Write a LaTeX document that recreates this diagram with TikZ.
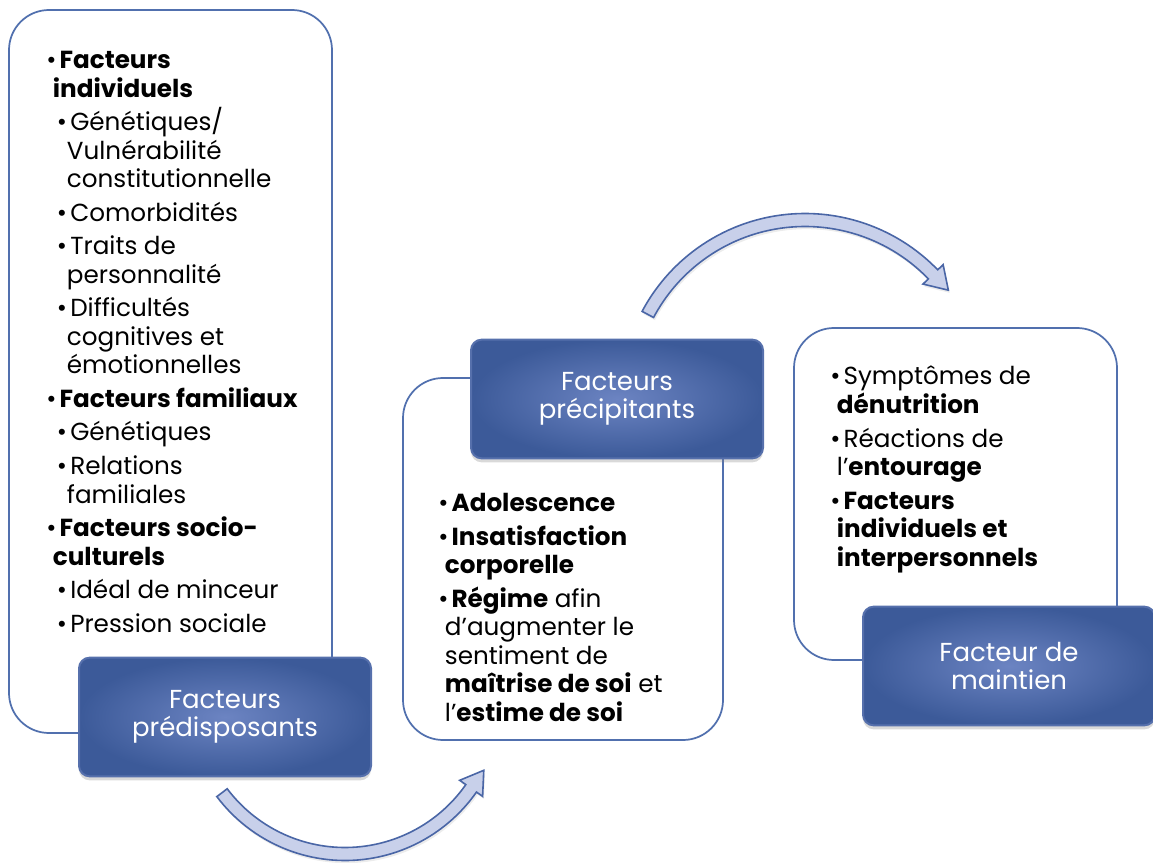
\documentclass[tikz,border=0pt]{standalone}
\usepackage{fontspec}
\setmainfont{Poppins}
\usepackage{tikz}
\usetikzlibrary{calc}
\usetikzlibrary{shadows}

\definecolor{boxdark}{HTML}{3C5A99}
\definecolor{boxlight}{HTML}{6C84C2}
\definecolor{boxline}{HTML}{5670AC}
\definecolor{frameline}{HTML}{5170AE}
\definecolor{arrowfill}{HTML}{C8D0EA}
\definecolor{arrowline}{HTML}{4A66A6}

\newcommand{\pa}{\makebox[10pt][l]{•}}              % first level bullet
\newcommand{\pb}{\hspace*{8pt}\makebox[10pt][l]{•}} % second level bullet
\newcommand{\ca}{\hspace*{5pt}}                     % first level follow-up line
\newcommand{\cb}{\hspace*{15.5pt}}                  % second level follow-up line

\begin{document}
\begin{tikzpicture}[x=0.75pt, y=0.75pt]

\def\ig{3.75pt} % extra gap between two items
\def\ra{154}    % radius of the lower arrow
\def\rb{178}    % radius of the upper arrow
\def\hw{6.5}    % half width of the arrow shaft
\def\hh{14}     % half width of the arrow head
\def\hl{22}     % length of the arrow head

\pgfmathsetmacro{\raout}{\ra+\hw}
\pgfmathsetmacro{\rain}{\ra-\hw}
\pgfmathsetmacro{\raho}{\ra+\hh}
\pgfmathsetmacro{\rahi}{\ra-\hh}
\pgfmathsetmacro{\rbout}{\rb+\hw}
\pgfmathsetmacro{\rbin}{\rb-\hw}
\pgfmathsetmacro{\rbho}{\rb+\hh}
\pgfmathsetmacro{\rbhi}{\rb-\hh}

\tikzset{framebox/.style = {draw=frameline, line width=1.3pt, rounded corners=30pt}}
\tikzset{catbox/.style = {draw=boxline, line width=1.5pt, rounded corners=8pt,
                          shading=radial, inner color=boxlight, outer color=boxdark,
                          text=white, align=center, minimum width=219pt, minimum height=89pt,
                          font=\fontsize{19.5}{21}\selectfont,
                          drop shadow={shadow xshift=0pt, shadow yshift=-3pt, opacity=0.3}}}
\tikzset{itemtext/.style = {anchor=north west, align=left, inner sep=0pt,
                            font=\fontsize{18.5}{21.4}\selectfont}}
\tikzset{blockarrow/.style = {fill=arrowfill, draw=arrowline, line width=1.2pt,
                              drop shadow={shadow xshift=1pt, shadow yshift=-2pt, opacity=0.15}}}

\useasboundingbox (0,0) rectangle (1153,-863);

% frames round the lists
\draw[framebox] (9,-10) rectangle (332,-733);
\draw[framebox] (403,-378) rectangle (723,-740);
\draw[framebox] (794,-328) rectangle (1117,-660);

% curved arrows
\coordinate (ca) at (345,-700);
\coordinate (cb) at (805,-398);

\filldraw[blockarrow] ($(ca)+(217:\raout)$) arc[start angle=217, end angle=325, radius=\raout]
    -- ($(ca)+(325:\raho)$) -- ($(ca)+(325:\ra)+(55:\hl)$) -- ($(ca)+(325:\rahi)$)
    -- ($(ca)+(325:\rain)$) arc[start angle=325, end angle=217, radius=\rain] -- cycle;

\filldraw[blockarrow] ($(cb)+(152:\rbout)$) arc[start angle=152, end angle=44, radius=\rbout]
    -- ($(cb)+(44:\rbho)$) -- ($(cb)+(44:\rb)+(-46:\hl)$) -- ($(cb)+(44:\rbhi)$)
    -- ($(cb)+(44:\rbin)$) arc[start angle=44, end angle=152, radius=\rbin] -- cycle;

% lists
\node[itemtext] (predisplist) at (46,-51) {%
\pa\textbf{Facteurs}\\
\ca\textbf{individuels}\\[\ig]
\pb Génétiques/\\
\cb Vulnérabilité\\
\cb constitutionnelle\\[\ig]
\pb Comorbidités\\[\ig]
\pb Traits de\\
\cb personnalité\\[\ig]
\pb Difficultés\\
\cb cognitives et\\
\cb émotionnelles\\[\ig]
\pa\textbf{Facteurs familiaux}\\[\ig]
\pb Génétiques\\[\ig]
\pb Relations\\
\cb familiales\\[\ig]
\pa\textbf{Facteurs socio-}\\
\ca\textbf{culturels}\\[\ig]
\pb Idéal de minceur\\[\ig]
\pb Pression sociale};

\node[itemtext] (preciplist) at (438,-493) {%
\pa\textbf{Adolescence}\\[\ig]
\pa\textbf{Insatisfaction}\\
\ca\textbf{corporelle}\\[\ig]
\pa\textbf{Régime} afin\\
\ca d’augmenter le\\
\ca sentiment de\\
\ca\textbf{maîtrise de soi} et\\
\ca l’\textbf{estime de soi}};

\node[itemtext] (maintlist) at (830,-366) {%
\pa Symptômes de\\
\ca\textbf{dénutrition}\\[\ig]
\pa Réactions de\\
\ca l’\textbf{entourage}\\[\ig]
\pa\textbf{Facteurs}\\
\ca\textbf{individuels et}\\
\ca\textbf{interpersonnels}};

% category boxes
\node[catbox] (predisp) at (225,-717) {Facteurs\\prédisposants};
\node[catbox] (precip) at (617,-399) {Facteurs\\précipitants};
\node[catbox] (maint) at (1009,-666) {Facteur de\\maintien};

\end{tikzpicture}
\end{document}
